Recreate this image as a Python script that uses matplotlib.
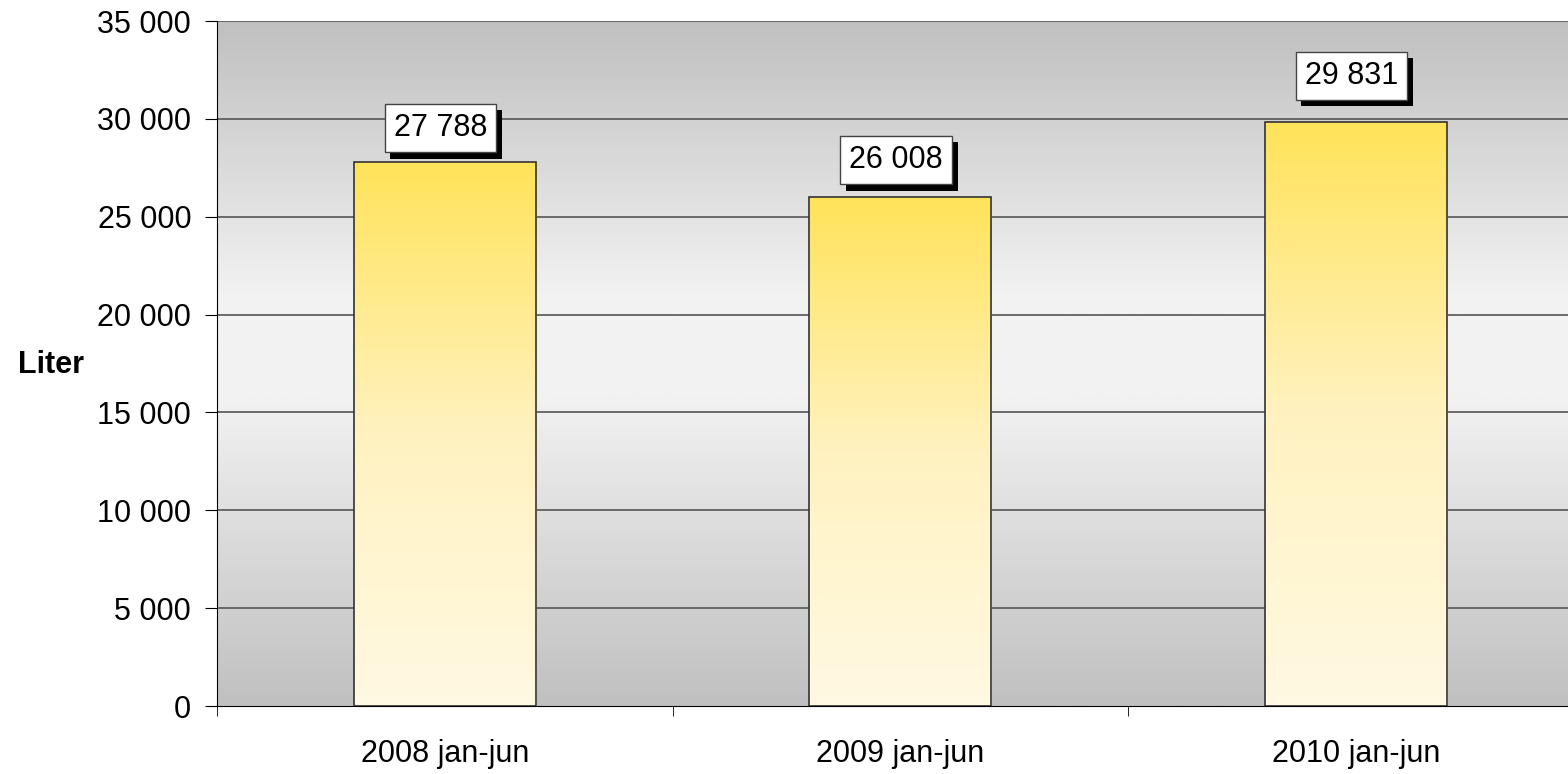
import numpy as np
import matplotlib.pyplot as plt
import matplotlib.patheffects as pe
from matplotlib.colors import LinearSegmentedColormap
from matplotlib.patches import Rectangle
from matplotlib.ticker import FuncFormatter

plt.rcParams["font.family"] = ["Liberation Sans", "DejaVu Sans"]

categories = ["2008 jan-jun", "2009 jan-jun", "2010 jan-jun"]
values = [27788, 26008, 29831]
value_labels = ["27 788", "26 008", "29 831"]
# gap (points) between bar top and its label box, as placed in the original
label_gaps = [7, 9, 16]

fig = plt.figure(figsize=(15.68, 7.74), dpi=100)
ax = fig.add_axes([217 / 1568, 1 - 706 / 774, 1366.5 / 1568, 685 / 774])
ax.set_xlim(-0.5, 2.5)
ax.set_ylim(0, 35000)

# plot area background: grey at top/bottom, light in the middle
bg = LinearSegmentedColormap.from_list(
    "bg", [(0, "#c0c0c0"), (0.45, "#f2f2f2"), (0.6, "#f2f2f2"), (1, "#c0c0c0")])
grad = np.linspace(0, 1, 256).reshape(-1, 1)
ax.imshow(grad, cmap=bg, aspect="auto", extent=(-0.5, 2.5, 0, 35000),
          origin="lower", zorder=0)

for y in range(5000, 35001, 5000):
    ax.axhline(y, color="#555555", lw=1.2, zorder=1)

barcm = LinearSegmentedColormap.from_list("bar", ["#fff9e3", "#fff2c0", "#ffe35a"])
width = 0.4
pad = 0.3
fs = 22
shadow = [pe.SimplePatchShadow(offset=(4, -4.5), shadow_rgbFace="black", alpha=1),
          pe.Normal()]
for i, v in enumerate(values):
    x0 = i - width / 2
    im = ax.imshow(grad, cmap=barcm, aspect="auto", extent=(x0, x0 + width, 0, v),
                   origin="lower", zorder=2)
    rect = Rectangle((x0, 0), width, v, facecolor="none", edgecolor="#333333",
                     lw=1.2, zorder=3)
    ax.add_patch(rect)
    im.set_clip_path(rect)
    t = ax.annotate(value_labels[i], (i, v), xytext=(-3, label_gaps[i] + pad * fs),
                    textcoords="offset points", ha="center", va="bottom",
                    fontsize=fs, color="black", zorder=5,
                    bbox=dict(boxstyle=f"square,pad={pad}", fc="white",
                              ec="#444444", lw=1))
    t.get_bbox_patch().set_path_effects(shadow)

ax.set_xticks([0, 1, 2])
ax.set_xticklabels(categories, fontsize=fs)
ax.set_xticks([-0.5, 0.5, 1.5, 2.5], minor=True)
ax.tick_params(axis="x", which="major", length=0, pad=24)
ax.tick_params(axis="x", which="minor", length=7, direction="out", color="black")
ax.set_yticks(range(0, 35001, 5000))
ax.yaxis.set_major_formatter(FuncFormatter(lambda v, p: f"{int(v):,}".replace(",", " ")))
ax.tick_params(axis="y", length=8.6, direction="out", labelsize=fs, pad=10)

for side in ["top", "right"]:
    ax.spines[side].set_visible(False)
ax.spines["left"].set_color("black")
ax.spines["bottom"].set_color("black")

fig.text(51 / 1568, 1 - 365 / 774, "Liter", fontsize=22, fontweight="bold",
         ha="center", va="center")

fig.savefig("out.png", dpi=100)
